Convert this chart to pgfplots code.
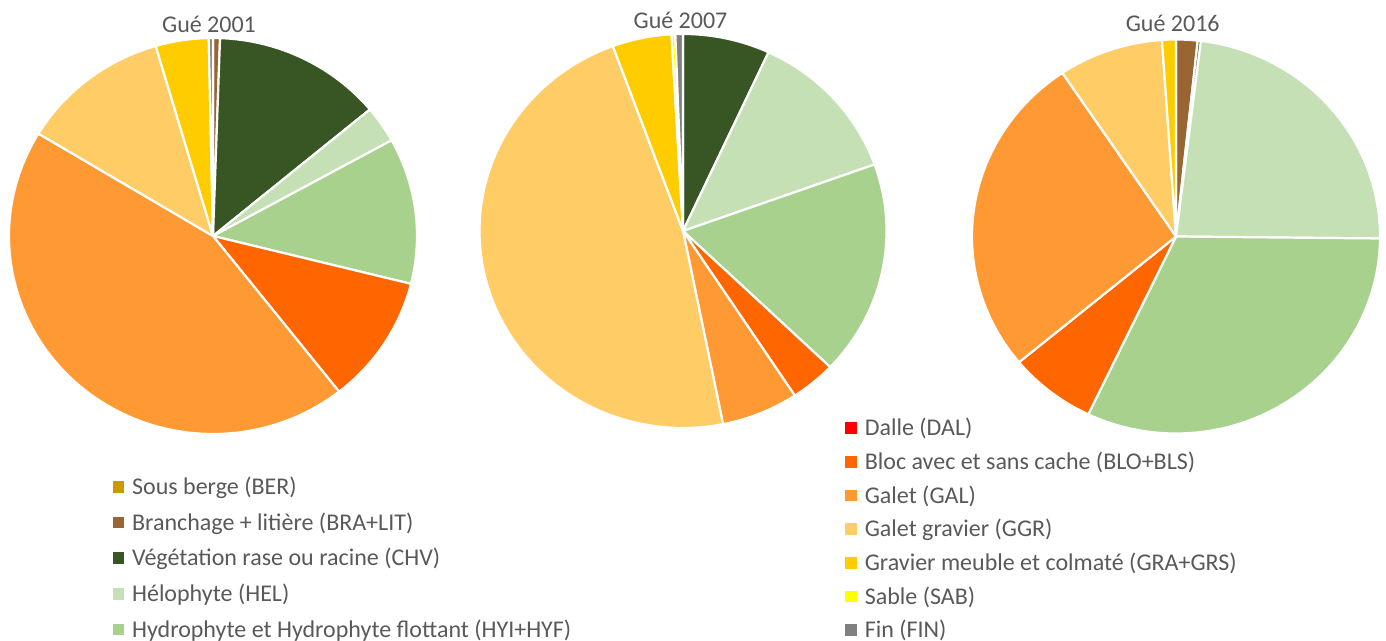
\documentclass[border=0pt]{standalone}
\usepackage{pgfplots}
\pgfplotsset{compat=1.18}
\usepackage{pgfplotstable}
\usepackage{fontspec}
\setmainfont{Carlito}
\definecolor{pc0}{HTML}{CC9900}
\definecolor{pc1}{HTML}{996633}
\definecolor{pc2}{HTML}{375623}
\definecolor{pc3}{HTML}{C5E0B4}
\definecolor{pc4}{HTML}{A9D18E}
\definecolor{pc5}{HTML}{FF0000}
\definecolor{pc6}{HTML}{FF6600}
\definecolor{pc7}{HTML}{FF9933}
\definecolor{pc8}{HTML}{FFCC66}
\definecolor{pc9}{HTML}{FFCC00}
\definecolor{pc10}{HTML}{FFFF00}
\definecolor{pc11}{HTML}{808080}
\definecolor{txt}{HTML}{595959}

% percentages of each habitat class, per survey
\pgfplotstableread{
cat  g2001 g2007 g2016
BER  0     0     0
BRA  0.55  0     1.7
CHV  13.4  6.9   0.25
HEL  3.0   12.6  23.2
HYI  11.9  17.6  31.9
DAL  0     0     0
BLO  10.5  3.6   6.9
GAL  44.2  6.1   26.6
GGR  11.8  47.5  8.3
GRA  4.2   4.7   1.1
SAB  0     0.3   0
FIN  0.33  0.6   0
}\piedata

\newcommand\drawpie[5]{% column, cx, cy, rx, ry
  \def\pietot{0}%
  \pgfplotsforeachungrouped \i in {0,...,11}{%
    \pgfplotstablegetelem{\i}{#1}\of\piedata
    \pgfmathsetmacro\pietot{\pietot+\pgfplotsretval}%
  }%
  \def\pieacc{0}%
  \pgfplotsforeachungrouped \i in {0,...,11}{%
    \pgfplotstablegetelem{\i}{#1}\of\piedata
    \let\pieval\pgfplotsretval
    \pgfmathsetmacro\piea{\pieacc/\pietot*360}%
    \pgfmathsetmacro\pieacc{\pieacc+\pieval}%
    \pgfmathsetmacro\pieb{\pieacc/\pietot*360}%
    \pgfmathtruncatemacro\pienz{\pieval>0}%
    \ifnum\pienz=1
      \edef\piecmd{\noexpand\addplot[fill=pc\i, draw=white, line width=1.1pt, line join=round, domain=\piea:\pieb, samples=90, forget plot] ({#2+#4*sin(x)},{#3-#5*cos(x)}) -- (axis cs:#2,#3) -- cycle;}%
      \piecmd
    \fi
  }%
}

\pgfplotsset{
  base/.style={at={(0pt,0pt)}, anchor=south west, width=693pt, height=320.5pt,
    scale only axis, xmin=0, xmax=1386, ymin=0, ymax=641, y dir=reverse,
    hide axis, clip=false,
    legend image code/.code={\fill[##1] (0pt,-2.65pt) rectangle (5.3pt,2.65pt);},
    legend cell align=left},
  lgd/.style={legend style={draw=none, fill=none, inner sep=0pt,
    column sep=4pt, nodes={inner sep=0pt, text height=9.2pt, text depth=1.5pt,
    font=\fontsize{12pt}{14pt}\selectfont, text=txt}}}
}

\begin{document}
\begin{tikzpicture}
\useasboundingbox (0,0) rectangle (693pt,320.5pt);
\begin{axis}[base, lgd, legend style={row sep=7.15pt, at={(axis cs:112.3,475.6)}, anchor=north west}]
  \drawpie{g2001}{213}{236}{204}{198}
  \drawpie{g2007}{683}{231}{203.5}{197}
  \drawpie{g2016}{1176}{236.5}{204}{197}
  \node[anchor=base, text=txt, font=\fontsize{12pt}{14pt}\selectfont, inner sep=0pt] at (axis cs:209,32.7) {Gué 2001};
  \node[anchor=base, text=txt, font=\fontsize{12pt}{14pt}\selectfont, inner sep=0pt] at (axis cs:680.5,28.3) {Gué 2007};
  \node[anchor=base, text=txt, font=\fontsize{12pt}{14pt}\selectfont, inner sep=0pt] at (axis cs:1172.7,31.7) {Gué 2016};
  \addlegendimage{pc0}\addlegendentry{Sous berge (BER)}
  \addlegendimage{pc1}\addlegendentry{Branchage + litière (BRA+LIT)}
  \addlegendimage{pc2}\addlegendentry{Végétation rase ou racine (CHV)}
  \addlegendimage{pc3}\addlegendentry{Hélophyte (HEL)}
  \addlegendimage{pc4}\addlegendentry{Hydrophyte et Hydrophyte flottant (HYI+HYF)}
\end{axis}
\begin{axis}[base, lgd, legend style={row sep=6.15pt, at={(axis cs:845,416.8)}, anchor=north west}]
  \addlegendimage{pc5}\addlegendentry{Dalle (DAL)}
  \addlegendimage{pc6}\addlegendentry{Bloc avec et sans cache (BLO+BLS)}
  \addlegendimage{pc7}\addlegendentry{Galet (GAL)}
  \addlegendimage{pc8}\addlegendentry{Galet gravier (GGR)}
  \addlegendimage{pc9}\addlegendentry{Gravier meuble et colmaté (GRA+GRS)}
  \addlegendimage{pc10}\addlegendentry{Sable (SAB)}
  \addlegendimage{pc11}\addlegendentry{Fin (FIN)}
\end{axis}
\end{tikzpicture}
\end{document}
